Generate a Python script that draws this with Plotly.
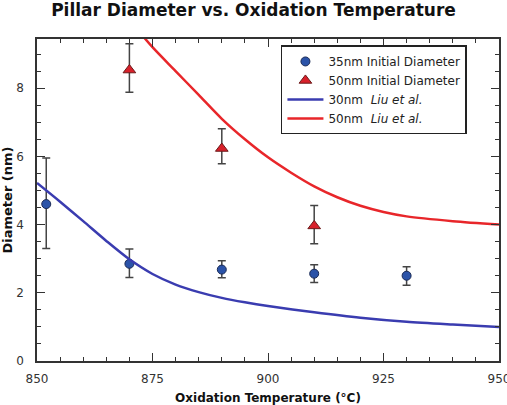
import plotly.graph_objects as go

# Measured data
t35 = [852, 870, 890, 910, 930]
d35 = [4.6, 2.85, 2.68, 2.56, 2.5]
d35_hi = [5.95, 3.28, 2.94, 2.82, 2.76]
d35_lo = [3.3, 2.45, 2.44, 2.3, 2.22]

t50 = [870, 890, 910]
d50 = [8.53, 6.23, 3.96]
d50_hi = [9.3, 6.81, 4.56]
d50_lo = [7.88, 5.78, 3.44]

# Liu et al. model curves
liu30_t = [850, 855, 860, 865, 870, 875, 880, 885, 890, 895, 900, 910, 920, 930, 940, 950]
liu30_d = [5.22, 4.67, 4.1, 3.52, 2.98, 2.55, 2.24, 2.02, 1.85, 1.72, 1.61, 1.43, 1.27, 1.15, 1.07, 1.0]
liu50_t = [870, 875, 880, 885, 890, 895, 900, 905, 910, 915, 920, 925, 930, 940, 950]
liu50_d = [10.0, 9.2, 8.5, 7.8, 7.1, 6.5, 5.97, 5.52, 5.12, 4.8, 4.55, 4.37, 4.24, 4.1, 4.0]

err_col = "#444444"

def err(v, hi, lo):
    return dict(type="data", symmetric=False,
                array=[h - x for h, x in zip(hi, v)],
                arrayminus=[x - l for x, l in zip(v, lo)],
                color=err_col, thickness=1.5, width=4)

fig = go.Figure()
fig.add_trace(go.Scatter(x=t35, y=d35, mode="markers", name="35nm Initial Diameter",
                         marker=dict(symbol="circle", size=9, color="#2b53a8",
                                     line=dict(color="#1a2a55", width=1)),
                         error_y=err(d35, d35_hi, d35_lo)))
fig.add_trace(go.Scatter(x=t50, y=d50, mode="markers", name="50nm Initial Diameter",
                         marker=dict(symbol="triangle-up", size=11, color="#d8202a",
                                     line=dict(color="#6a1a1a", width=1)),
                         error_y=err(d50, d50_hi, d50_lo)))
fig.add_trace(go.Scatter(x=liu30_t, y=liu30_d, mode="lines", name="30nm  <i>Liu et al.</i>",
                         line=dict(color="#3a3cb0", width=2.5, shape="spline", smoothing=0.8)))
fig.add_trace(go.Scatter(x=liu50_t, y=liu50_d, mode="lines", name="50nm  <i>Liu et al.</i>",
                         line=dict(color="#e8262a", width=2.5, shape="spline", smoothing=0.8)))

axis_common = dict(showline=True, linecolor="#333333", linewidth=1.5, mirror="allticks",
                   ticks="inside", ticklen=8, tickcolor="#333333", tickwidth=1.2,
                   showgrid=False, zeroline=False, ticklabeloverflow="allow",
                   automargin=False,
                   tickfont=dict(family="DejaVu Sans", size=12, color="#333333"))

fig.update_xaxes(range=[850, 950], tick0=850, dtick=25, ticklabelstandoff=6,
                 minor=dict(dtick=5, ticks="inside", ticklen=4, tickcolor="#333333"),
                 title=dict(text="Oxidation Temperature (°C)",
                            font=dict(family="DejaVu Sans", size=12, color="#111111", weight="bold"),
                            standoff=8),
                 **axis_common)
fig.update_yaxes(range=[0, 9.44], tick0=0, dtick=2, ticklabelstandoff=9,
                 minor=dict(dtick=0.5, ticks="inside", ticklen=4, tickcolor="#333333"),
                 title=dict(text="Diameter (nm)",
                            font=dict(family="DejaVu Sans", size=13, color="#111111", weight="bold"),
                            standoff=4),
                 **axis_common)

fig.update_layout(
    width=507, height=405,
    margin=dict(l=37, r=8, t=39, b=44),
    paper_bgcolor="white", plot_bgcolor="white",
    title=dict(text="<b>Pillar Diameter vs. Oxidation Temperature</b>",
               x=0.5, xanchor="center", y=0.99, yanchor="top",
               font=dict(family="DejaVu Sans", size=17, color="#111111")),
    showlegend=True,
    legend=dict(x=0.528, y=0.98, xanchor="left", yanchor="top",
                bgcolor="white", bordercolor="#222222", borderwidth=1.5,
                font=dict(family="DejaVu Sans", size=12, color="#222222"),
                tracegroupgap=0, itemwidth=36),
)

fig.write_html("out.html")
